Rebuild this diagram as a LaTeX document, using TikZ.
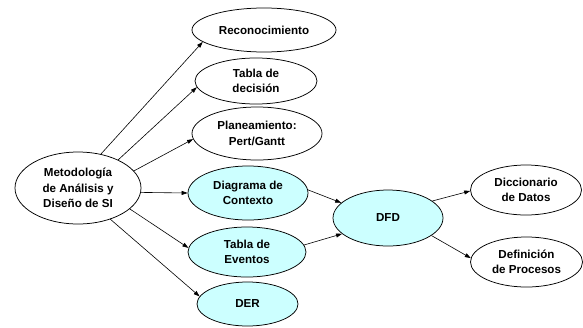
\documentclass[tikz,border=0pt]{standalone}
\usepackage{fontspec}
\setmainfont{Liberation Sans}
\usetikzlibrary{shapes.geometric,arrows.meta}
\definecolor{lcyan}{RGB}{204,255,255}
\tikzset{
  ell/.style={ellipse, draw=black, line width=0.75pt, inner sep=0pt, align=center,
    font=\fontsize{11.6}{15.5}\selectfont\bfseries},
  cyanell/.style={ell, fill=lcyan},
  arr/.style={line width=0.6pt, -{Triangle[length=6pt,width=4pt]}}
}
\begin{document}
\begin{tikzpicture}[x=1pt,y=-1pt]
\useasboundingbox (0,0) rectangle (583,327);
\node[ell, minimum width=126pt, minimum height=72pt] (meto) at (78,188) {Metodología\\de Análisis y\\Diseño de SI};
\node[ell, minimum width=144pt, minimum height=44pt] (rec) at (264,30) {Reconocimiento};
\node[ell, minimum width=122pt, minimum height=46pt] (tdec) at (256,81) {Tabla de\\decisión};
\node[ell, minimum width=130pt, minimum height=53pt] (plan) at (257,133.5) {Planeamiento:\\Pert/Gantt};
\node[cyanell, minimum width=120pt, minimum height=54pt] (diag) at (248,193) {Diagrama de\\Contexto};
\node[cyanell, minimum width=118pt, minimum height=50pt] (tev) at (247,252) {Tabla de\\Eventos};
\node[cyanell, minimum width=101pt, minimum height=44pt] (der) at (247.5,304) {DER};
\node[cyanell, minimum width=110pt, minimum height=56pt] (dfd) at (388,218) {DFD};
\node[ell, minimum width=111pt, minimum height=50pt] (dic) at (526,190) {Diccionario\\de Datos};
\node[ell, minimum width=112pt, minimum height=50pt] (def) at (526.5,262) {Definición\\de Procesos};

\draw[arr] (meto.56) -- (rec.191);
\draw[arr] (meto.35) -- (tdec.186);
\draw[arr] (meto.17) -- (plan.185);
\draw[arr] (meto.-4) -- (diag.180);
\draw[arr] (meto.-22) -- (tev.176);
\draw[arr] (meto.-44) -- (der.171);
\draw[arr] (diag.3) -- (dfd.162);
\draw[arr] (tev.7) -- (dfd.199);
\draw[arr] (dfd.21) -- (dic.181);
\draw[arr] (dfd.-22) -- (def.176);
\end{tikzpicture}
\end{document}
